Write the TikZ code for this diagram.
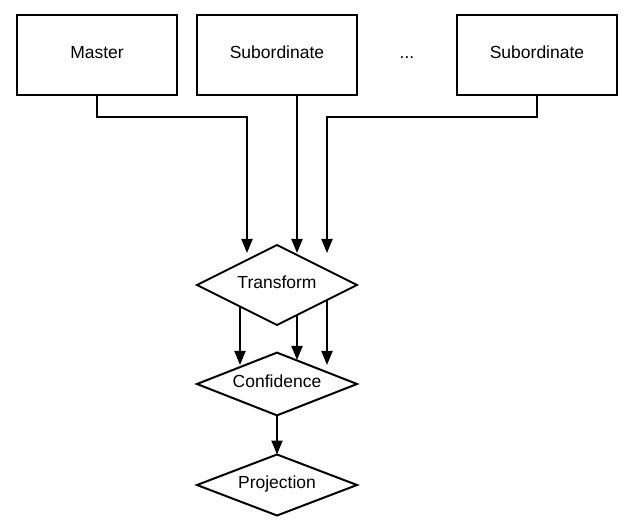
\documentclass[tikz,border=0pt]{standalone}
\usepackage{fontspec}
\setmainfont{Liberation Sans}
\usetikzlibrary{shapes.geometric,arrows.meta}
\begin{document}
\begin{tikzpicture}[x=1pt,y=-1pt,
  every node/.style={font=\fontsize{17.5}{20}\selectfont,text height=12.5pt,text depth=6pt},
  box/.style={draw,line width=2pt,minimum width=160pt,minimum height=80pt,inner sep=0pt,outer sep=0pt},
  dia/.style={draw,diamond,line width=2pt,aspect=2,minimum width=160pt,inner sep=0pt,outer sep=0pt},
  arr/.style={line width=2pt,-{Triangle[length=14pt,width=11pt]}}]
\useasboundingbox (0,0) rectangle (637,526);
\node[box] (m) at (97,55) {Master};
\node[box] (s1) at (277,55) {Subordinate};
\node (dots) at (407,55) {...};
\node[box] (s2) at (537,55) {Subordinate};
\node[dia,minimum height=80pt] (t) at (277,285) {Transform};
\node[dia,minimum height=59pt] (c) at (277,384) {Confidence};
\node[dia,minimum height=61pt] (p) at (277,485) {Projection};
% free ends
\coordinate (t1) at (247,253);
\coordinate (t2) at (297,253);
\coordinate (t3) at (327,253);
\coordinate (o1) at (240,306.5);
\coordinate (o2) at (297,315);
\coordinate (o3) at (327,300);
\coordinate (c1) at (240,365);
\coordinate (c2) at (297,360);
\coordinate (c3) at (327,365);
\draw[arr] (m.south) -- ++(0,22) -| (t1);
\draw[arr] (s1.south -| t2) -- (t2);
\draw[arr] (s2.south) -- ++(0,22) -| (t3);
\draw[arr] (o1) -- (c1);
\draw[arr] (o2) -- (c2);
\draw[arr] (o3) -- (c3);
\draw[arr] (c.south) -- (p.north);
\end{tikzpicture}
\end{document}
